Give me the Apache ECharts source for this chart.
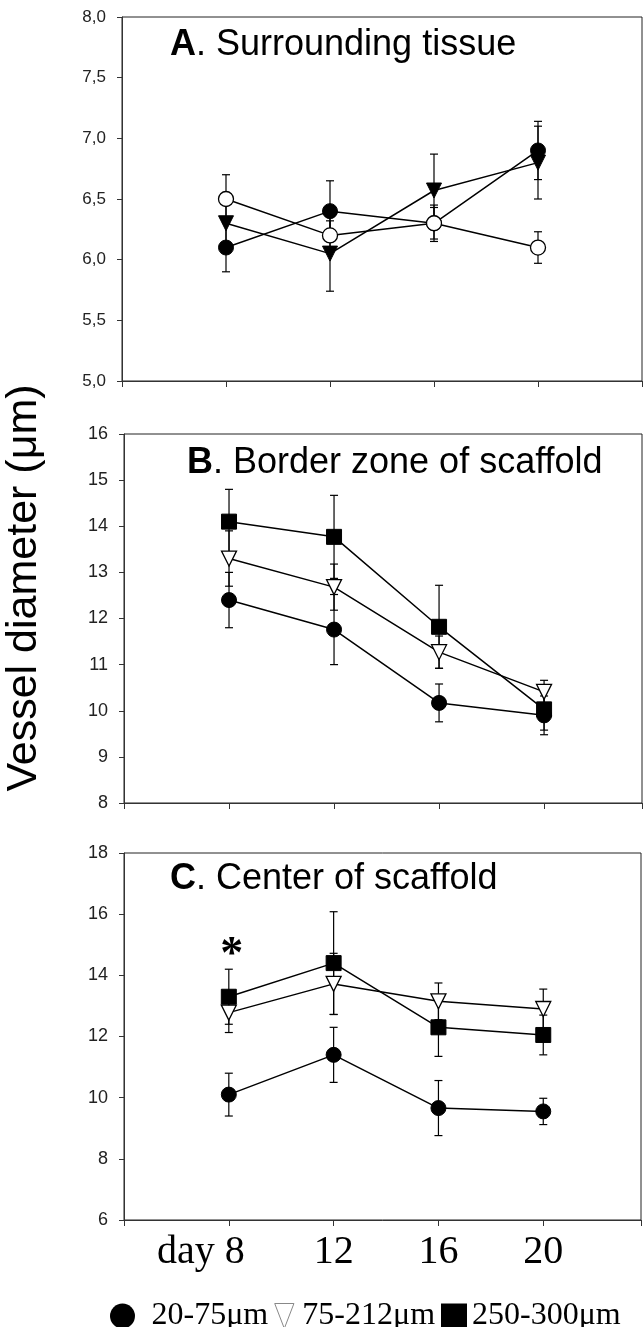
<!DOCTYPE html>
<html>
<head>
<meta charset="utf-8">
<script src="https://cdn.jsdelivr.net/npm/echarts@6/dist/echarts.min.js"></script>
<style>
  html, body { margin: 0; padding: 0; background: #fff; }
  #chart { width: 644px; height: 1327px; }
</style>
</head>
<body>
<div id="chart"></div>
<script>
// days of measurement
var days = [8, 12, 16, 20];

// A. Surrounding tissue
var tissueFilledCircle = [6.1, 6.4, 6.3, 6.9];
var tissueFilledCircleErr = [0.2, 0.25, 0.15, 0.24];
var tissueOpenCircle = [6.5, 6.2, 6.3, 6.1];
var tissueOpenCircleErr = [0.2, 0.12, 0.13, 0.13];
var tissueTriangle = [6.3, 6.05, 6.57, 6.8];
var tissueTriangleErr = [0.2, 0.31, 0.3, 0.3];

// B. Border zone of scaffold
var borderSmall = [12.4, 11.76, 10.17, 9.9];
var borderSmallErr = [0.6, 0.76, 0.41, 0.42];
var borderMedium = [13.3, 12.68, 11.27, 10.41];
var borderMediumErr = [0.6, 0.5, 0.35, 0.25];
var borderLarge = [14.1, 13.77, 11.82, 10.03];
var borderLargeErr = [0.7, 0.9, 0.9, 0.45];

// C. Center of scaffold
var centerSmall = [10.1, 11.4, 9.66, 9.55];
var centerSmallErr = [0.7, 0.9, 0.9, 0.43];
var centerMedium = [12.78, 13.72, 13.15, 12.9];
var centerMediumErr = [0.65, 1.0, 0.6, 0.65];
var centerLarge = [13.3, 14.4, 12.3, 12.05];
var centerLargeErr = [0.9, 1.68, 0.95, 0.65];

// significance mark (day, value)
var starPoint = [8, 14.95];

var sizeNames = ['20-75μm', '75-212μm', '250-300μm'];

var chart = echarts.init(document.getElementById('chart'));

function pairs(vals) {
    return days.map(function (d, i) { return [d, vals[i]]; });
}

function errs(vals, e) {
    return days.map(function (d, i) { return [d, vals[i] - e[i], vals[i] + e[i]]; });
}

function renderErr(params, api) {
    var x = api.value(0);
    var top = api.coord([x, api.value(2)]);
    var bot = api.coord([x, api.value(1)]);
    var w = 4;
    var st = {stroke: '#000', lineWidth: 1.2};
    return {
        type: 'group',
        children: [
            {type: 'line', shape: {x1: top[0], y1: top[1], x2: bot[0], y2: bot[1]}, style: st},
            {type: 'line', shape: {x1: top[0] - w, y1: top[1], x2: top[0] + w, y2: top[1]}, style: st},
            {type: 'line', shape: {x1: bot[0] - w, y1: bot[1], x2: bot[0] + w, y2: bot[1]}, style: st}
        ]
    };
}

var filled = {color: '#000', borderColor: '#000', borderWidth: 1};
var hollow = {color: '#fff', borderColor: '#000', borderWidth: 1.3};

function lineSeries(name, idx, vals, symbol, style, rotate) {
    return {
        name: name,
        type: 'line',
        xAxisIndex: idx,
        yAxisIndex: idx,
        data: pairs(vals),
        symbol: symbol,
        symbolSize: 15,
        symbolRotate: rotate || 0,
        showAllSymbol: true,
        lineStyle: {color: '#000', width: 1.5},
        itemStyle: style,
        z: 3
    };
}

function errSeries(idx, vals, e) {
    return {
        type: 'custom',
        xAxisIndex: idx,
        yAxisIndex: idx,
        data: errs(vals, e),
        encode: {x: 0, y: [1, 2]},
        renderItem: renderErr,
        silent: true,
        z: 2
    };
}

var gridBox = {show: true, borderColor: '#222', borderWidth: 1, backgroundColor: 'transparent'};

function xAxisFor(idx, max, showLabel) {
    return {
        gridIndex: idx,
        type: 'value',
        min: 4,
        max: max,
        interval: 4,
        axisLine: {lineStyle: {color: '#333', width: 1}},
        axisTick: {show: true, inside: false, length: 6, lineStyle: {color: '#333'}},
        splitLine: {show: false},
        axisLabel: {
            show: showLabel,
            margin: 12,
            fontFamily: 'Liberation Serif',
            fontSize: 40,
            color: '#000',
            formatter: function (v) {
                if (v === 8) return '{d|day 8}';
                if (v === 12 || v === 16 || v === 20) return String(v);
                return '';
            },
            rich: {
                d: {fontFamily: 'Liberation Serif', fontSize: 40, color: '#000', padding: [0, 56, 0, 0]}
            }
        }
    };
}

function yAxisFor(idx, min, max, interval, fmt, fs) {
    return {
        gridIndex: idx,
        type: 'value',
        min: min,
        max: max,
        interval: interval,
        axisLine: {show: true, lineStyle: {color: '#333', width: 1}},
        axisTick: {show: true, inside: false, length: 5, lineStyle: {color: '#333'}},
        splitLine: {show: false},
        axisLabel: {
            margin: 16,
            fontFamily: 'Liberation Sans',
            fontSize: fs,
            color: '#222',
            formatter: fmt
        }
    };
}

var titleStyle = {
    fontFamily: 'Liberation Sans',
    fontSize: 36,
    fontWeight: 'normal',
    color: '#000',
    rich: {b: {fontFamily: 'Liberation Sans', fontSize: 36, fontWeight: 'bold', color: '#000'}}
};

var option = {
    animation: false,
    backgroundColor: '#fff',
    title: [
        {text: '{b|A}. Surrounding tissue', left: 170, top: 27, padding: 0, textStyle: titleStyle},
        {text: '{b|B}. Border zone of scaffold', left: 187, top: 445, padding: 0, textStyle: titleStyle},
        {text: '{b|C}. Center of scaffold', left: 170, top: 861, padding: 0, textStyle: titleStyle}
    ],
    grid: [
        Object.assign({left: 122, top: 17, width: 520, height: 364}, gridBox),
        Object.assign({left: 124, top: 434, width: 518, height: 369}, gridBox),
        Object.assign({left: 124, top: 853, width: 518, height: 367}, gridBox)
    ],
    xAxis: [
        xAxisFor(0, 24, false),
        xAxisFor(1, 23.73, false),
        xAxisFor(2, 23.73, true)
    ],
    yAxis: [
        yAxisFor(0, 5, 8, 0.5, function (v) { return v.toFixed(1).replace('.', ','); }, 17),
        yAxisFor(1, 8, 16, 1, function (v) { return String(v); }, 18),
        yAxisFor(2, 6, 18, 2, function (v) { return String(v); }, 18)
    ],
    legend: {
        left: 105,
        top: 1295,
        itemWidth: 26,
        itemHeight: 25,
        itemGap: 6,
        selectedMode: false,
        textStyle: {fontFamily: 'Liberation Serif', fontSize: 32, color: '#000', lineHeight: 32},
        data: [
            {name: sizeNames[0], icon: 'circle', itemStyle: {color: '#000', borderWidth: 0},
             textStyle: {padding: [0, 0, 0, 11]}},
            {name: sizeNames[1], icon: 'path://M0,0L20,0L10,26Z',
             itemStyle: {color: '#fff', borderColor: '#888', borderWidth: 1}},
            {name: sizeNames[2], icon: 'rect', itemStyle: {color: '#000', borderWidth: 0}}
        ]
    },
    graphic: [{
        type: 'text',
        x: 24,
        y: 588,
        rotation: Math.PI / 2,
        style: {
            text: 'Vessel diameter (μm)',
            fontFamily: 'Liberation Sans',
            fontSize: 43,
            fill: '#000',
            textAlign: 'center',
            textVerticalAlign: 'middle'
        }
    }],
    series: [
        errSeries(0, tissueFilledCircle, tissueFilledCircleErr),
        errSeries(0, tissueOpenCircle, tissueOpenCircleErr),
        errSeries(0, tissueTriangle, tissueTriangleErr),
        lineSeries('tissue ●', 0, tissueFilledCircle, 'circle', filled),
        lineSeries('tissue ○', 0, tissueOpenCircle, 'circle', hollow),
        lineSeries('tissue ▼', 0, tissueTriangle, 'triangle', filled, 180),

        errSeries(1, borderSmall, borderSmallErr),
        errSeries(1, borderMedium, borderMediumErr),
        errSeries(1, borderLarge, borderLargeErr),
        lineSeries(sizeNames[0], 1, borderSmall, 'circle', filled),
        lineSeries(sizeNames[1], 1, borderMedium, 'triangle', hollow, 180),
        lineSeries(sizeNames[2], 1, borderLarge, 'rect', filled),

        errSeries(2, centerSmall, centerSmallErr),
        errSeries(2, centerMedium, centerMediumErr),
        errSeries(2, centerLarge, centerLargeErr),
        lineSeries(sizeNames[0], 2, centerSmall, 'circle', filled),
        lineSeries(sizeNames[1], 2, centerMedium, 'triangle', hollow, 180),
        Object.assign(lineSeries(sizeNames[2], 2, centerLarge, 'rect', filled), {
            markPoint: {
                symbol: 'circle',
                symbolSize: 0,
                silent: true,
                data: [{coord: starPoint, value: '*'}],
                label: {
                    show: true,
                    position: 'inside',
                    offset: [3, 10],
                    formatter: '*',
                    fontFamily: 'Liberation Serif',
                    fontWeight: 'bold',
                    fontSize: 46,
                    color: '#000'
                }
            }
        })
    ]
};

chart.setOption(option);
</script>
</body>
</html>
